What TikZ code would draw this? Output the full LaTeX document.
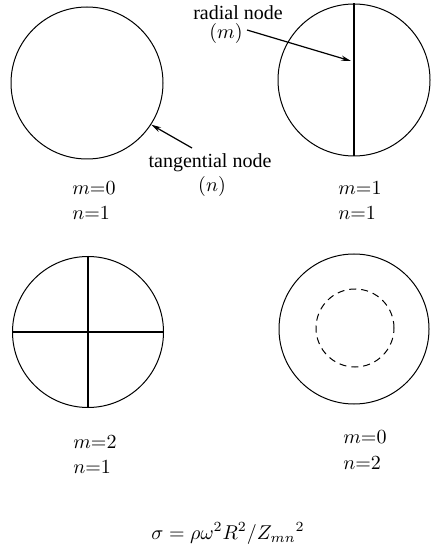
\documentclass[tikz,border=0pt]{standalone}
\usepackage{fontspec}
\setmainfont{Liberation Serif}
\usetikzlibrary{arrows.meta}
\begin{document}
\begin{tikzpicture}[x=0.5pt,y=-0.5pt,
  disk/.style={circle,draw,line width=0.5pt,minimum size=#1,inner sep=0pt},
  nodeline/.style={line width=0.8pt},
  lbl/.style={anchor=base west,inner sep=0pt,font=\fontsize{10}{12}\selectfont},
  txt/.style={anchor=base,inner sep=0pt,font=\fontsize{10}{12}\selectfont},
  pointer/.style={line width=0.6pt,-{Stealth[length=5pt,width=2.6pt]}}]
\useasboundingbox (0,0) rectangle (430,550);
% plates
\node[disk=76pt] (c1) at (87,83) {};
\node[disk=76pt] (c2) at (354,80) {};
\node[disk=75.5pt] (c3) at (88,332) {};
\node[disk=75pt] (c4) at (354,329) {};
\node[disk=39pt,dash pattern=on 3.5pt off 2.5pt] (c5) at (355,328) {};
% nodal lines
\draw[nodeline] (c2.north) -- (c2.south);
\draw[nodeline] (c3.north) -- (c3.south);
\draw[nodeline] (c3.west) -- (c3.east);
% annotations
\node[txt] (tn) at (210,168) {tangential node};
\node[txt] (tnn) at (212,192) {$(n)$};
\coordinate (ta) at (192,148);
\draw[pointer] (ta) -- (c1.-33);
\node[txt] (rn) at (238,20) {radial node};
\node[txt] (rnm) at (226,39) {$(m)$};
\coordinate (ra) at (247,30);
\coordinate (rb) at (351,61);
\draw[pointer] (ra) -- (rb);
% mode labels
\node[lbl] (m1) at (72,195) {$m{=}0$};
\node[lbl] (n1) at (72,220) {$n{=}1$};
\node[lbl] (m2) at (338,195) {$m{=}1$};
\node[lbl] (n2) at (338,220) {$n{=}1$};
\node[lbl] (m3) at (73,448) {$m{=}2$};
\node[lbl] (n3) at (73,473) {$n{=}1$};
\node[lbl] (m4) at (343,443) {$m{=}0$};
\node[lbl] (n4) at (343,469) {$n{=}2$};
% formula
\node[txt] (f) at (228,539) {$\sigma=\rho\omega^2R^2/Z_{mn}{}^2$};
\end{tikzpicture}
\end{document}
